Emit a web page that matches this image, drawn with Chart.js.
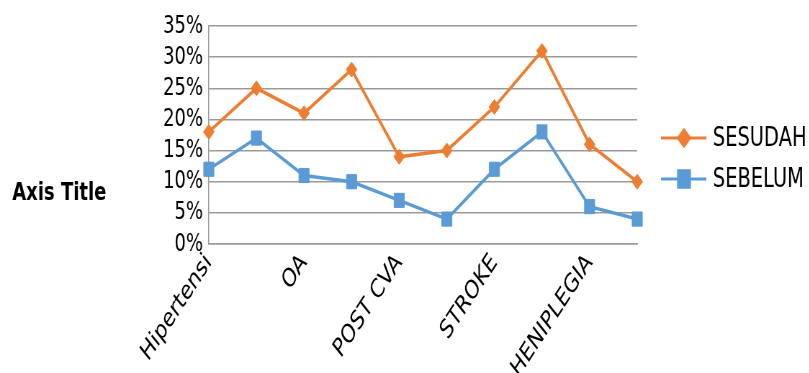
<!DOCTYPE html>
<html>
<head>
<meta charset="utf-8">
<script src="https://cdn.jsdelivr.net/npm/chart.js@4/dist/chart.umd.min.js"></script>
<style>
  html, body { margin: 0; padding: 0; background: #fff; }
  #frame { width: 809px; height: 373px; overflow: hidden; position: relative; }
  /* the chart is drawn on a wider canvas and narrowed horizontally */
  #stage { width: 1124px; height: 373px; transform: scaleX(0.72); transform-origin: 0 0; }
</style>
</head>
<body>
<div id="frame"><div id="stage"><canvas id="chart" width="1124" height="373"></canvas></div></div>
<script>
// Categories (only every second one carries a printed name on the axis)
const categories = ['Hipertensi', '', 'OA', '', 'POST CVA', '', 'STROKE', '', 'HENIPLEGIA', ''];
// Percentages per category
const sesudah = [18, 25, 21, 28, 14, 15, 22, 31, 16, 10];
const sebelum = [12, 17, 11, 10, 7, 4, 12, 18, 6, 4];
// Y axis ticks
const yTicks = [0, 5, 10, 15, 20, 25, 30, 35];
const seriesNames = ['SESUDAH', 'SEBELUM'];

const ORANGE = '#ED7D31';
const BLUE = '#5B9BD5';
const GRID = '#9a9a9a';
const FONT = "'DejaVu Sans', sans-serif";

const series = [
  { label: seriesNames[0], data: sesudah, color: ORANGE, pointStyle: 'rectRot', radius: 7.5 },
  { label: seriesNames[1], data: sebelum, color: BLUE, pointStyle: 'rect', radius: 10 }
];

// Legend with line + marker, and a horizontal axis caption on the left
const sideTexts = {
  id: 'sideTexts',
  afterDraw(chart) {
    const ctx = chart.ctx;
    ctx.save();
    ctx.fillStyle = '#000';
    ctx.font = "bold 25px " + FONT;
    ctx.textAlign = 'left';
    ctx.textBaseline = 'middle';
    ctx.fillText('Axis Title', 17, 193);

    const rows = [138, 179];
    series.forEach((s, i) => {
      const y = rows[i];
      ctx.strokeStyle = s.color;
      ctx.lineWidth = 3;
      ctx.beginPath();
      ctx.moveTo(918, y);
      ctx.lineTo(981, y);
      ctx.stroke();
      Chart.helpers.drawPoint(ctx, {
        pointStyle: s.pointStyle,
        radius: s.pointStyle === 'rect' ? s.radius * 1.15 : s.radius * 1.1,
        rotation: 0,
        borderWidth: 1
      }, 950, y);
      ctx.fillStyle = s.color;
      ctx.strokeStyle = s.color;
      ctx.fill();
      ctx.fillStyle = '#000';
      ctx.font = "27px " + FONT;
      ctx.textAlign = 'left';
      ctx.textBaseline = 'middle';
      ctx.fillText(s.label, 990, y + 1);
    });
    ctx.restore();
  }
};

new Chart(document.getElementById('chart'), {
  type: 'line',
  data: {
    labels: categories,
    datasets: series.map(s => ({
      label: s.label,
      data: s.data,
      borderColor: s.color,
      backgroundColor: s.color,
      borderWidth: 3.5,
      pointStyle: s.pointStyle,
      pointRadius: s.radius,
      pointBorderWidth: 1,
      pointBackgroundColor: s.color,
      pointBorderColor: s.color,
      tension: 0,
      fill: false
    }))
  },
  options: {
    responsive: false,
    animation: false,
    devicePixelRatio: 1,
    layout: { padding: { top: 26, right: 239, bottom: 0, left: 0 } },
    plugins: { legend: { display: false }, tooltip: { enabled: false } },
    scales: {
      x: {
        offset: false,
        grid: { display: false, drawTicks: false },
        border: { display: true, color: GRID, width: 1.5 },
        ticks: {
          autoSkip: false,
          minRotation: 48,
          maxRotation: 48,
          padding: 4,
          color: '#000',
          font: { family: FONT, size: 26 }
        },
        afterFit(scale) { scale.height = 373 - 244; }
      },
      y: {
        min: yTicks[0],
        max: yTicks[yTicks.length - 1],
        afterBuildTicks(scale) { scale.ticks = yTicks.map(v => ({ value: v })); },
        grid: { color: GRID, lineWidth: 1.5, drawTicks: false },
        border: { display: true, color: GRID, width: 1.5 },
        ticks: {
          autoSkip: false,
          padding: 8,
          color: '#000',
          font: { family: FONT, size: 25 },
          callback: v => v + '%'
        },
        afterFit(scale) { scale.width = 290; }
      }
    }
  },
  plugins: [sideTexts]
});
</script>
</body>
</html>
